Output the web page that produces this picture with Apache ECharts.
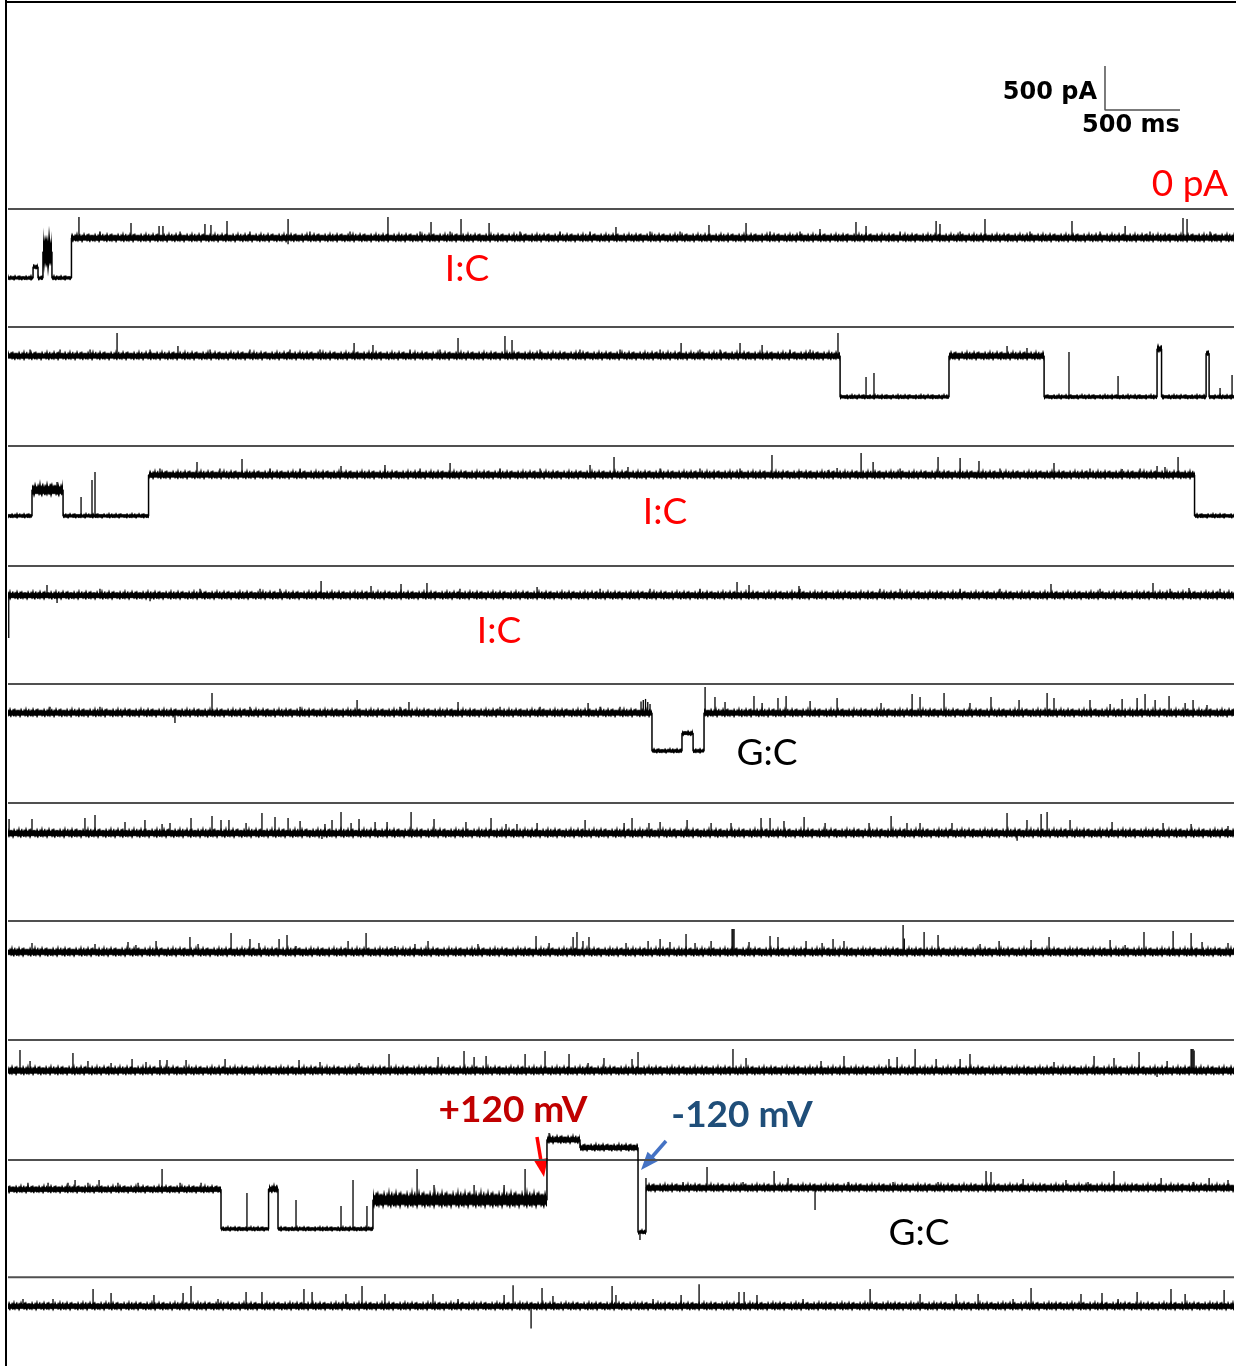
<!DOCTYPE html>
<html><head><meta charset="utf-8">
<script src="https://cdn.jsdelivr.net/npm/echarts@6/dist/echarts.min.js"></script>
<style>html,body{margin:0;padding:0;background:#fff}#c{width:1236px;height:1366px}</style>
</head><body><div id="c"></div>
<script>
// ---- data (time in ms, current in pA) ----
const TIME_MAX_MS = 8173;
const CURRENT_MIN_PA = -1023;
const CURRENT_MAX_PA = 568;

// levels: [start ms, current pA, noise half-width pA]
const row1Levels = [[0,-784,25],[167,-660,28],[200,-784,25],[233,-490,200],[293,-784,25],[423,-330,42]];
const row1Spikes = [[473,-91],[820,-159],[1007,-193],[1033,-193],[1313,-170],[1353,-182],[1460,-136],[1867,-114],[2533,-91],[2820,-148],[3020,-114],[3207,-159],[4053,-205],[4673,-182],[4920,-159],[5413,-227],[5653,-148],[5720,-193],[6187,-136],[6213,-170],[6513,-114],[7093,-136],[7447,-193],[7833,-102],[7860,-114],
  [613,-255],[1147,-255],[1613,-255],[2013,-255],[2280,-255],[2747,-255],[2947,-255],[3413,-255],[3680,-255],[3880,-255],[4280,-255],[4480,-255],[5080,-255],[5280,-255],[5947,-255],[6347,-255],[6813,-255],[7280,-255],[7613,-255],[8013,-255],[1867,-400]];

const row2Levels = [[0,-330,42],[5547,-795,25],[6273,-330,42],[6907,-795,25],[7660,-250,40],[7690,-795,25],[7987,-300,30],[8007,-795,25]];
const row2Spikes = [[727,-68],[1133,-216],[2307,-182],[2433,-205],[3000,-125],[3313,-102],[3360,-148],[4487,-182],[4880,-182],[5027,-205],[5533,-68],[5720,-568],[5773,-523],[6660,-216],[6793,-239],[7073,-284],[7400,-557],[8080,-693],[8160,-545],
  [147,-255],[347,-255],[547,-255],[947,-255],[1347,-255],[1613,-255],[1880,-255],[2080,-255],[2680,-255],[2880,-255],[3547,-255],[3813,-255],[4080,-255],[4347,-255],[4613,-255],[4747,-255],[5213,-255],[5347,-255]];

const row3Levels = [[0,-795,25],[160,-500,65],[367,-795,25],[937,-330,42],[7910,-795,25]];
const row3Spikes = [[327,-409],[487,-580],[560,-386],[580,-295],[1260,-182],[1560,-148],[2220,-227],[2513,-216],[2947,-193],[3880,-216],[4040,-125],[4133,-239],[5093,-102],[5280,-284],[5467,-273],[5527,-250],[5687,-80],[5767,-182],[6200,-125],[6347,-136],[6473,-170],[6973,-193],[7427,-261],[7660,-227],[7713,-239],[7800,-125],
  [1013,-255],[1413,-255],[1747,-255],[1947,-255],[2747,-255],[3280,-255],[3547,-255],[4347,-255],[4613,-255],[4880,-255],[5947,-255],[6613,-255],[7213,-255],[7547,-255]];

const row4Levels = [[0,-335,42]];
const row4Spikes = [[5,-818],[260,-216],[2087,-170],[2420,-227],[2620,-205],[2793,-193],[3527,-239],[4860,-182],[4940,-216],[5273,-227],[6953,-205],[7633,-193],[7873,-250],[327,-420],[947,-400],
  [613,-260],[1280,-260],[1680,-260],[1813,-260],[3013,-260],[3947,-260],[4280,-260],[4613,-260],[5280,-260],[5813,-260],[5947,-260],[6347,-260],[6613,-260],[7280,-260],[7747,-260],[8080,-260]];

const row5Levels = [[0,-330,42],[4293,-761,25],[4493,-560,28],[4567,-761,25],[4640,-330,42]];
const row5Spikes = [[1113,-443],[1360,-102],[2327,-182],[2673,-205],[3000,-205],[3867,-216],[4220,-200],[4235,-182],[4250,-170],[4265,-205],[4280,-227],[4647,-34],[4713,-148],[4780,-205],[4973,-136],[5027,-216],[5133,-159],[5187,-136],[5347,-193],[5527,-159],[5820,-216],[6027,-114],[6080,-148],[6240,-102],[6413,-216],[6553,-148],[6740,-182],[6927,-102],[6973,-159],[7213,-182],[7347,-227],[7427,-170],[7527,-159],[7580,-114],[7647,-182],[7740,-136],[7847,-216],[7900,-182],[7993,-239],
  [280,-260],[613,-260],[1613,-260],[1947,-260],[2613,-260],[3280,-260],[3547,-260],[3947,-260],[4080,-260]];

const row6Levels = [[0,-345,45]];
const row6Spikes = [[7,-182],[160,-182],[513,-170],[580,-136],[780,-216],[913,-193],[1027,-239],[1080,-227],[1220,-170],[1360,-148],[1420,-193],[1473,-193],[1587,-227],[1693,-114],[1780,-159],[1867,-170],[1947,-205],[2113,-239],[2160,-193],[2220,-102],[2287,-227],[2340,-182],[2447,-216],[2527,-216],[2687,-102],[2840,-182],[3053,-216],[3220,-170],[3320,-239],[3393,-239],[3527,-227],[3847,-193],[4107,-227],[4160,-170],[4273,-227],[4347,-216],[4527,-193],[4687,-227],[4820,-227],[5020,-170],[5080,-170],[5173,-205],[5307,-159],[5447,-227],[5740,-227],[5887,-148],[5993,-227],[6080,-227],[6293,-227],[6660,-114],[6793,-193],[6887,-125],[6927,-102],[7080,-193],[7360,-216],[7700,-227],[7887,-239],[8133,-261],[6727,-430],[2093,-410]];

const row7Levels = [[0,-355,45]];
const row7Spikes = [[160,-250],[580,-261],[800,-239],[853,-273],[987,-227],[1213,-182],[1267,-261],[1487,-136],[1613,-205],[1673,-250],[1807,-205],[1860,-159],[1920,-284],[2267,-227],[2387,-136],[2580,-284],[2713,-261],[2800,-227],[3133,-261],[3520,-170],[3607,-250],[3767,-182],[3793,-125],[3833,-227],[3873,-182],[4120,-250],[4267,-227],[4347,-205],[4413,-239],[4520,-148],[4580,-250],[4687,-227],[4827,-91],[4833,-91],[4840,-91],[4940,-239],[5080,-170],[5133,-182],[5320,-227],[5427,-250],[5500,-205],[5573,-227],[5967,-45],[5975,-200],[6107,-125],[6200,-159],[6480,-261],[6607,-227],[6820,-216],[6940,-182],[7347,-216],[7447,-273],[7573,-125],[7767,-114],[7887,-136],[7960,-239],[8133,-250]];

const row8Levels = [[0,-350,45]];
const row8Spikes = [[80,-114],[147,-239],[433,-148],[533,-239],[687,-261],[827,-216],[920,-250],[1013,-227],[1060,-227],[1187,-227],[1447,-216],[1940,-227],[2080,-250],[2340,-261],[2540,-159],[2867,-193],[3040,-125],[3107,-193],[3187,-182],[3447,-159],[3580,-125],[3740,-159],[3867,-261],[3973,-205],[4160,-216],[4200,-136],[4833,-102],[4920,-205],[5420,-239],[5573,-182],[5873,-216],[5927,-193],[6047,-102],[6187,-216],[6347,-216],[6413,-159],[6973,-250],[7240,-182],[7373,-205],[7540,-136],[7727,-239],[7887,-102],[7893,-102],[7900,-102],[7907,-120],[7660,-420]];

const row9Levels = [[0,-335,38],[1420,-784,25],[1737,-330,42],[1800,-784,25],[2433,-455,80],[3593,230,42],[3813,140,38],[4200,-820,25],[4253,-318,42]];
const row9Spikes = [[447,-227],[607,-227],[1027,-102],[133,-260],[267,-260],[400,-260],[533,-260],[733,-260],[867,-260],[1147,-260],[1287,-260],[1593,-375],[1920,-455],[2220,-523],[2300,-227],[2393,-523],[2727,-102],[3447,-102],[2840,-284],[3107,-284],[3307,-284],[3607,307],[4213,-909],[4253,-205],[4660,-80],[5107,-125],[5200,-205],[6520,-125],[6553,-136],[6767,-216],[7053,-227],[7373,-125],[7687,-205],[8007,-205],[8133,-227],[5380,-568],
  [4500,-250],[4900,-250],[5600,-250],[5900,-250],[6200,-250],[7200,-250],[7900,-250]];

const row10Levels = [[0,-335,42]];
const row10Spikes = [[567,-136],[687,-182],[973,-205],[1167,-182],[1220,-102],[1587,-170],[1693,-170],[1973,-136],[2027,-170],[2253,-193],[2360,-102],[2513,-193],[2833,-193],[3307,-205],[3367,-91],[3560,-125],[3633,-216],[4027,-102],[4053,-205],[4487,-205],[4607,-80],[4873,-170],[4907,-170],[4993,-205],[5747,-136],[6080,-193],[6320,-193],[6467,-193],[6820,-125],[7153,-193],[7293,-182],[7527,-170],[7753,-136],[7847,-193],[8107,-148],[3487,-591],
  [100,-250],[300,-250],[1400,-250],[3000,-250],[4300,-250],[5300,-250],[6700,-250],[7400,-250]];

// scale bar: 500 pA x 500 ms
const scaleBarPA = 500;
const scaleBarMS = 500;
const scaleBarStartMS = 7313;

const rows = [
  {levels:row1Levels, spikes:row1Spikes},
  {levels:row2Levels, spikes:row2Spikes},
  {levels:row3Levels, spikes:row3Spikes},
  {levels:row4Levels, spikes:row4Spikes},
  {levels:row5Levels, spikes:row5Spikes},
  {levels:row6Levels, spikes:row6Spikes},
  {levels:row7Levels, spikes:row7Spikes},
  {levels:row8Levels, spikes:row8Spikes},
  {levels:row9Levels, spikes:row9Spikes},
  {levels:row10Levels, spikes:row10Spikes}
];

// ---- layout & style ----
const baselinePx = [209,327,446,566,684,803,921,1040,1160,1278];
// fixed edge-roughness texture for the drawn noise band (style only)
const EDGE_UP = [0.7,1.0,0.6,1.5,0.8,0.5,1.2,0.7,1.9,0.6,0.9,1.3,0.5,1.1,0.7,1.7,0.8,0.6,1.2,0.9,1.4,0.6,1.0];
const EDGE_DN = [0.8,0.6,1.1,0.7,0.9,1.3,0.6,0.8,1.0,0.7,1.2,0.6,0.9,0.7,1.4,0.8,0.6];
const grids = [], xAxes = [], yAxes = [], series = [];
function addGrid(zeroPx){
  grids.push({left:8, width:1226, top:zeroPx-50, height:140});
  const i = grids.length-1;
  xAxes.push({gridIndex:i, type:'value', min:0, max:TIME_MAX_MS, show:false});
  yAxes.push({gridIndex:i, type:'value', min:CURRENT_MIN_PA, max:CURRENT_MAX_PA, show:false});
  return i;
}
function levelAt(levels, t){
  let v = levels[0][1];
  for (const l of levels){ if (l[0] <= t) v = l[1]; else break; }
  return v;
}
rows.forEach((row, r) => {
  const gi = addGrid(baselinePx[r]);
  series.push({type:'line', xAxisIndex:gi, yAxisIndex:gi, data:[[0,0],[TIME_MAX_MS,0]], symbol:'none', silent:true,
    lineStyle:{color:'#505050', width:2}, z:1});
  const segs = row.levels.map((l, k) => [l[0], k+1 < row.levels.length ? row.levels[k+1][0] : TIME_MAX_MS, l[1], l[2]]);
  series.push({type:'custom', xAxisIndex:gi, yAxisIndex:gi, data:segs, silent:true, z:3,
    encode:{x:[0,1], y:2},
    renderItem:(p, api) => {
      const a = api.coord([api.value(0), api.value(2)]);
      const b = api.coord([api.value(1), api.value(2)]);
      const h = api.size([0, api.value(3)])[1];
      const x0 = Math.round(a[0]), x1 = Math.round(b[0]), yc = a[1];
      const top = [], bot = [];
      for (let x = x0; x <= x1; x++) {
        const k = x + r * 7;
        top.push([x, yc - h * EDGE_UP[k % EDGE_UP.length]]);
        bot.push([x, yc + h * EDGE_DN[k % EDGE_DN.length]]);
      }
      return {type:'polygon', shape:{points: top.concat(bot.reverse())}, style:{fill:'#000'}};
    }});
  const pts = [];
  segs.forEach(s => { pts.push([s[0], s[2]]); pts.push([s[1], s[2]]); });
  series.push({type:'line', xAxisIndex:gi, yAxisIndex:gi, data:pts, symbol:'none', silent:true,
    lineStyle:{color:'#000', width:1.5}, z:3});
  const sp = row.spikes.map(s => [s[0], levelAt(row.levels, s[0]), s[1]]);
  series.push({type:'custom', xAxisIndex:gi, yAxisIndex:gi, data:sp, silent:true, z:4,
    encode:{x:0, y:[1,2]},
    renderItem:(p, api) => {
      const a = api.coord([api.value(0), api.value(1)]);
      const b = api.coord([api.value(0), api.value(2)]);
      return {type:'line', shape:{x1:a[0], y1:a[1], x2:b[0], y2:b[1]}, style:{stroke:'#000', lineWidth:1.3}};
    }});
});
// scale bar grid (zero at y=110)
const sg = addGrid(110);
series.push({type:'line', xAxisIndex:sg, yAxisIndex:sg, symbol:'none', silent:true,
  data:[[scaleBarStartMS, scaleBarPA],[scaleBarStartMS,0],[scaleBarStartMS+scaleBarMS,0]],
  lineStyle:{color:'#505050', width:1.5}});

const txt = (x, y, text, font, color, align) => ({type:'text', x, y, style:{text, font, fill:color, align:align||'center', verticalAlign:'middle'}});
const lato = '37px Lato';
const latoB = 'bold 37px Lato';
const graphic = [
  {type:'line', shape:{x1:6, y1:0, x2:6, y2:1366}, style:{stroke:'#000', lineWidth:2}},
  {type:'line', shape:{x1:6, y1:2, x2:1236, y2:2}, style:{stroke:'#000', lineWidth:2}},
  txt(1097, 93, '500 pA', 'bold 24px "DejaVu Sans"', '#000', 'right'),
  txt(1082, 126, '500 ms', 'bold 24px "DejaVu Sans"', '#000', 'left'),
  txt(1228, 184, '0 pA', lato, '#FF0000', 'right'),
  txt(467, 269, 'I:C', lato, '#FF0000'),
  txt(665, 512, 'I:C', lato, '#FF0000'),
  txt(499, 631, 'I:C', lato, '#FF0000'),
  txt(767, 753, 'G:C', lato, '#000'),
  txt(919, 1233, 'G:C', lato, '#000'),
  txt(513, 1110, '+120 mV', latoB, '#C00000'),
  txt(742, 1115, '-120 mV', latoB, '#1F4E79'),
  {type:'line', shape:{x1:537, y1:1137, x2:541, y2:1161}, style:{stroke:'#FF0000', lineWidth:3.5}},
  {type:'polygon', shape:{points:[[544,1177],[547.8,1158],[534,1160.5]]}, style:{fill:'#FF0000'}},
  {type:'line', shape:{x1:666, y1:1141, x2:652, y2:1157}, style:{stroke:'#4472C4', lineWidth:3.5}},
  {type:'polygon', shape:{points:[[641,1170],[658,1161],[647.5,1151.8]]}, style:{fill:'#4472C4'}}
];

const chart = echarts.init(document.getElementById('c'), null, {renderer:'canvas'});
chart.setOption({animation:false, backgroundColor:'#fff', grid:grids, xAxis:xAxes, yAxis:yAxes, series, graphic});
</script></body></html>
